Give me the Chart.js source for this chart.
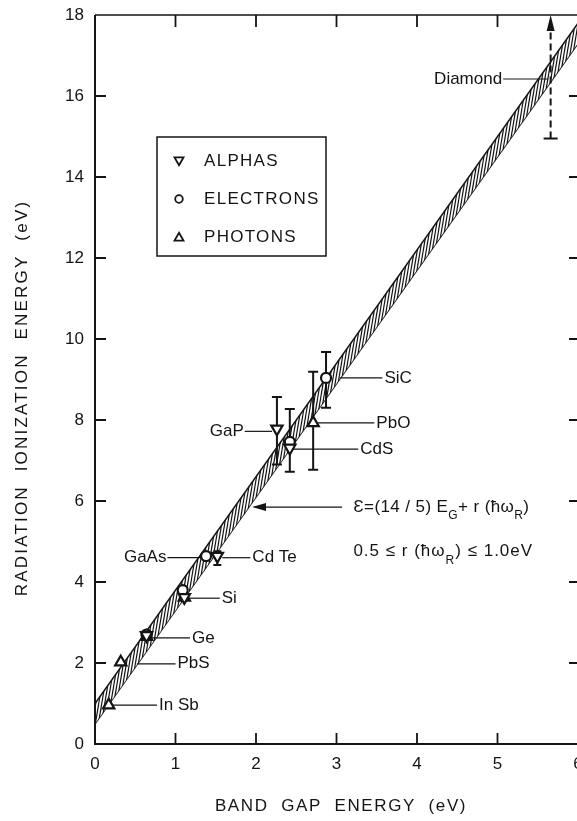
<!DOCTYPE html>
<html>
<head>
<meta charset="utf-8">
<script src="https://cdn.jsdelivr.net/npm/chart.js@4"></script>
<style>
  html, body { margin: 0; padding: 0; background: #fff; overflow: hidden; }
  #wrap { width: 600px; height: 821px; }
</style>
</head>
<body>
<div id="wrap"><canvas id="myChart" width="600" height="821"></canvas></div>
<script>
// values (band gap eV -> ionization energy eV)
const alphasX = [0.64, 1.11, 1.52, 2.26, 2.42];
const alphasY = [2.68, 3.62, 4.64, 7.78, 7.31];
const electronsX = [0.64, 1.09, 1.38, 2.42, 2.87];
const electronsY = [2.70, 3.80, 4.64, 7.46, 9.04];
const photonsX = [0.17, 0.32, 0.64, 1.11, 2.71];
const photonsY = [0.96, 2.02, 2.65, 3.62, 7.93];

// error bars
const errX = [2.26, 2.42, 2.71, 2.87, 1.52];
const errLow = [6.90, 6.72, 6.77, 8.30, 4.42];
const errHigh = [8.57, 8.27, 9.19, 9.68, 4.76];

// shaded band E = 2.8 Eg + (0.5 .. 1.0)
const bandX = [0, 6];
const bandLow = [0.5, 17.3];
const bandHigh = [1.0, 17.8];

// diamond range (dashed arrow)
const diamondX = 5.66;
const diamondLow = 14.95;
const diamondHigh = 18;

const xTicks = [0, 1, 2, 3, 4, 5, 6];
const yTicks = [0, 2, 4, 6, 8, 10, 12, 14, 16, 18];

const INK = '#141414';
const FONT = '"Liberation Sans", Arial, sans-serif';

// labels with leader lines, in data units
const notes = [
  { text: 'Diamond', x0: 5.07, x1: 5.63, y: 16.42, side: 'left' },
  { text: 'SiC', x0: 3.04, x1: 3.57, y: 9.04, side: 'right' },
  { text: 'PbO', x0: 2.77, x1: 3.47, y: 7.93, side: 'right' },
  { text: 'CdS', x0: 2.45, x1: 3.27, y: 7.28, side: 'right' },
  { text: 'GaP', x0: 1.86, x1: 2.20, y: 7.72, side: 'left' },
  { text: 'GaAs', x0: 0.90, x1: 1.33, y: 4.60, side: 'left' },
  { text: 'Cd Te', x0: 1.58, x1: 1.93, y: 4.60, side: 'right' },
  { text: 'Si', x0: 1.16, x1: 1.55, y: 3.60, side: 'right' },
  { text: 'Ge', x0: 0.68, x1: 1.18, y: 2.62, side: 'right' },
  { text: 'PbS', x0: 0.52, x1: 1.00, y: 1.98, side: 'right' },
  { text: 'In Sb', x0: 0.22, x1: 0.77, y: 0.96, side: 'right' }
];

function toPoints(xs, ys) {
  return xs.map((x, i) => ({ x: x, y: ys[i] }));
}

// dense steep hatching like the inked band
function makeHatch() {
  const w = 3, h = 18;
  const c = document.createElement('canvas');
  c.width = w; c.height = h;
  const g = c.getContext('2d');
  g.fillStyle = '#fff';
  g.fillRect(0, 0, w, h);
  g.strokeStyle = INK;
  g.lineWidth = 1.2;
  for (const dx of [-w, 0, w]) {
    g.beginPath();
    g.moveTo(dx, h);
    g.lineTo(dx + w, 0);
    g.stroke();
  }
  return g.createPattern(c, 'repeat');
}

function drawTri(ctx, x, y, r, down) {
  const s = down ? -1 : 1;
  ctx.beginPath();
  ctx.moveTo(x, y - s * r);
  ctx.lineTo(x + r * 0.866, y + s * r * 0.5);
  ctx.lineTo(x - r * 0.866, y + s * r * 0.5);
  ctx.closePath();
  ctx.fill();
  ctx.stroke();
}

function drawErrorBars(chart) {
  const { ctx, scales: { x, y } } = chart;
  ctx.save();
  ctx.strokeStyle = INK;
  ctx.lineWidth = 2;
  errX.forEach((v, i) => {
    const px = x.getPixelForValue(v);
    const lo = y.getPixelForValue(errLow[i]);
    const hi = y.getPixelForValue(errHigh[i]);
    const cap = i === 4 ? 4 : 5;
    ctx.beginPath();
    ctx.moveTo(px, lo); ctx.lineTo(px, hi);
    ctx.moveTo(px - cap, lo); ctx.lineTo(px + cap, lo);
    ctx.moveTo(px - cap, hi); ctx.lineTo(px + cap, hi);
    ctx.stroke();
  });

  // diamond dashed arrow
  const dx = x.getPixelForValue(diamondX);
  const dLo = y.getPixelForValue(diamondLow);
  const dHi = y.getPixelForValue(diamondHigh);
  ctx.setLineDash([7, 4]);
  ctx.beginPath();
  ctx.moveTo(dx, dLo); ctx.lineTo(dx, dHi + 12);
  ctx.stroke();
  ctx.setLineDash([]);
  ctx.beginPath();
  ctx.moveTo(dx - 7, dLo); ctx.lineTo(dx + 7, dLo);
  ctx.stroke();
  ctx.fillStyle = INK;
  ctx.beginPath();
  ctx.moveTo(dx, dHi);
  ctx.lineTo(dx + 4, dHi + 16);
  ctx.lineTo(dx - 4, dHi + 16);
  ctx.closePath();
  ctx.fill();
  ctx.restore();
}

const paperPlugin = {
  id: 'paper',
  afterDatasetDraw(chart, args) {
    if (args.index === 4) drawErrorBars(chart);
  },
  afterDraw(chart) {
    const { ctx, chartArea: a, scales: { x, y } } = chart;
    ctx.save();
    ctx.strokeStyle = INK;
    ctx.fillStyle = INK;

    // frame
    ctx.lineWidth = 2;
    ctx.beginPath();
    ctx.moveTo(a.left, a.top); ctx.lineTo(a.left, a.bottom); ctx.lineTo(a.right, a.bottom);
    ctx.stroke();
    ctx.lineWidth = 1.6;
    ctx.beginPath();
    ctx.moveTo(a.left, a.top); ctx.lineTo(a.right, a.top); ctx.lineTo(a.right, a.bottom);
    ctx.stroke();

    // inward ticks on all four sides
    ctx.lineWidth = 1.8;
    ctx.beginPath();
    xTicks.slice(1, -1).forEach(v => {
      const px = x.getPixelForValue(v);
      ctx.moveTo(px, a.bottom); ctx.lineTo(px, a.bottom - 11);
      ctx.moveTo(px, a.top); ctx.lineTo(px, a.top + 12);
    });
    yTicks.slice(1, -1).forEach(v => {
      const py = y.getPixelForValue(v);
      ctx.moveTo(a.left, py); ctx.lineTo(a.left + 11, py);
      ctx.moveTo(a.right, py); ctx.lineTo(a.right - 9, py);
    });
    ctx.stroke();

    // material labels
    ctx.lineWidth = 1.2;
    ctx.font = '17px ' + FONT;
    ctx.textBaseline = 'middle';
    notes.forEach(n => {
      const x0 = x.getPixelForValue(n.x0);
      const x1 = x.getPixelForValue(n.x1);
      const py = y.getPixelForValue(n.y);
      ctx.beginPath();
      ctx.moveTo(x0, py); ctx.lineTo(x1, py);
      ctx.stroke();
      if (n.side === 'right') {
        ctx.textAlign = 'left';
        ctx.fillText(n.text, x1 + 2, py);
      } else {
        ctx.textAlign = 'right';
        ctx.fillText(n.text, x0 - 1, py);
      }
    });

    // formula with arrow to the band
    const ay = y.getPixelForValue(5.85);
    const tip = x.getPixelForValue(1.95);
    const tail = x.getPixelForValue(3.07);
    ctx.beginPath();
    ctx.moveTo(tail, ay); ctx.lineTo(tip + 10, ay);
    ctx.stroke();
    ctx.beginPath();
    ctx.moveTo(tip, ay); ctx.lineTo(tip + 14, ay - 4); ctx.lineTo(tip + 14, ay + 4);
    ctx.closePath();
    ctx.fill();

    function runs(parts, sx, sy) {
      let cx = sx;
      ctx.textAlign = 'left';
      parts.forEach(p => {
        ctx.font = (p.sub ? '12px ' : '17px ') + FONT;
        ctx.fillText(p.t, cx, sy + (p.sub ? 9 : 0));
        cx += ctx.measureText(p.t).width;
      });
    }
    const fx = x.getPixelForValue(3.21);
    ctx.letterSpacing = '0.4px';
    runs([{ t: 'Ɛ=(14 / 5) E' }, { t: 'G', sub: true }, { t: '+ r (ħω' }, { t: 'R', sub: true }, { t: ')' }],
      fx, y.getPixelForValue(5.85));
    ctx.letterSpacing = '1px';
    runs([{ t: '0.5 ≤ r (ħω' }, { t: 'R', sub: true }, { t: ') ≤ 1.0eV' }],
      fx, y.getPixelForValue(4.76));

    // legend box
    ctx.lineWidth = 1.5;
    ctx.strokeRect(157, 137, 169, 119);
    const sets = chart.data.datasets;
    ctx.font = '17px ' + FONT;
    ctx.letterSpacing = '1.3px';
    ctx.textAlign = 'left';
    [161, 199, 237].forEach((ly, i) => {
      ctx.fillStyle = '#fff';
      ctx.lineWidth = 1.8;
      if (i === 1) {
        ctx.beginPath(); ctx.arc(179, ly, 3.8, 0, Math.PI * 2); ctx.fill(); ctx.stroke();
      } else {
        drawTri(ctx, 179, ly + (i === 0 ? -1 : 1), 5.2, i === 0);
      }
      ctx.fillStyle = INK;
      ctx.fillText(sets[i].label, 204, ly);
    });

    // axis titles
    ctx.font = '17px ' + FONT;
    ctx.letterSpacing = '1.6px';
    ctx.textAlign = 'center';
    ctx.fillText('BAND  GAP  ENERGY  (eV)', 341, 806);
    ctx.translate(22, 398);
    ctx.rotate(-Math.PI / 2);
    ctx.letterSpacing = '2.2px';
    ctx.fillText('RADIATION  IONIZATION  ENERGY  (eV)', 0, 0);
    ctx.restore();
  }
};

const pointStyleBase = {
  showLine: false,
  borderColor: INK,
  backgroundColor: '#fff',
  borderWidth: 2.2,
  order: 1
};

new Chart(document.getElementById('myChart'), {
  type: 'scatter',
  data: {
    datasets: [
      { ...pointStyleBase, label: 'ALPHAS', data: toPoints(alphasX, alphasY), pointStyle: 'triangle', rotation: 180, pointRadius: 6.5 },
      { ...pointStyleBase, label: 'ELECTRONS', data: toPoints(electronsX, electronsY), pointStyle: 'circle', pointRadius: 5 },
      { ...pointStyleBase, label: 'PHOTONS', data: toPoints(photonsX, photonsY), pointStyle: 'triangle', pointRadius: 6.5 },
      {
        label: 'band low', data: toPoints(bandX, bandLow), showLine: true, pointRadius: 0,
        borderColor: INK, borderWidth: 1.5, fill: false, order: 11
      },
      {
        label: 'band high', data: toPoints(bandX, bandHigh), showLine: true, pointRadius: 0,
        borderColor: INK, borderWidth: 1.5, fill: '-1', backgroundColor: makeHatch(), order: 10
      }
    ]
  },
  options: {
    responsive: false,
    animation: false,
    events: [],
    layout: { padding: { top: 15, right: 22, left: 0, bottom: 0 } },
    plugins: { legend: { display: false }, tooltip: { enabled: false } },
    scales: {
      x: {
        type: 'linear', min: 0, max: 6,
        grid: { display: false, drawTicks: false },
        border: { display: false },
        ticks: {
          stepSize: 1, padding: 10, color: INK,
          font: { family: FONT, size: 17 },
          callback: v => xTicks.includes(v) ? String(v) : ''
        },
        afterFit: s => { s.height = 77; s.paddingLeft = 0; s.paddingRight = 0; }
      },
      y: {
        type: 'linear', min: 0, max: 18,
        grid: { display: false, drawTicks: false },
        border: { display: false },
        ticks: {
          stepSize: 2, padding: 11, color: INK,
          font: { family: FONT, size: 17 },
          callback: v => yTicks.includes(v) ? String(v) : ''
        },
        afterFit: s => { s.width = 95; s.paddingTop = 0; s.paddingBottom = 0; }
      }
    }
  },
  plugins: [paperPlugin]
});
</script>
</body>
</html>
